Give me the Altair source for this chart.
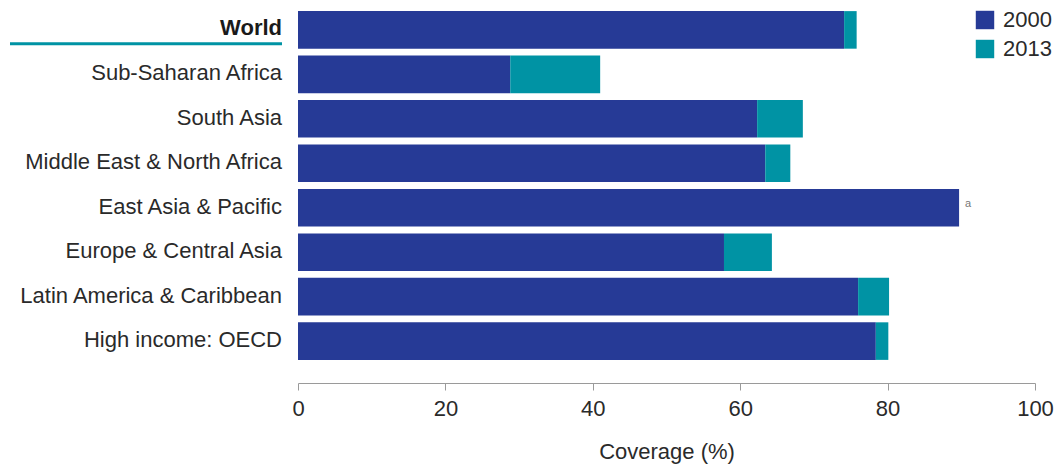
import altair as alt
import pandas as pd

regions = ["World", "Sub-Saharan Africa", "South Asia", "Middle East & North Africa",
           "East Asia & Pacific", "Europe & Central Asia", "Latin America & Caribbean",
           "High income: OECD"]
cov2000 = [74.1, 28.8, 62.3, 63.4, 89.7, 57.8, 76.0, 78.4]
cov2013 = [75.8, 41.0, 68.5, 66.8, 89.7, 64.3, 80.2, 80.1]
notes = ["", "", "", "", "a", "", "", ""]
years = ["2000", "2013"]
colors = ["#263a96", "#0093a4"]
ticks = [0, 20, 40, 60, 80, 100]

FONT = "Liberation Sans"
TXT = "#2a2a2a"
FS = 22

rows = []
for r, a, b in zip(regions, cov2000, cov2013):
    rows.append({"region": r, "year": "2000", "start": 0, "end": a})
    if b > a:
        rows.append({"region": r, "year": "2013", "start": a, "end": b})
seg = pd.DataFrame(rows)
info = pd.DataFrame({"region": regions, "total": cov2013, "note": notes})

yscale = alt.Scale(domain=regions, paddingInner=0.155, paddingOuter=0.07)
Y = alt.Y("region:N", sort=regions, scale=yscale, axis=None)

bars = alt.Chart(seg).mark_bar().encode(
    y=Y,
    x=alt.X("start:Q", scale=alt.Scale(domain=[0, 100], nice=False),
            axis=alt.Axis(values=ticks, title="Coverage (%)", grid=False,
                          domainColor="#9a9a9a", tickColor="#9a9a9a", tickSize=7,
                          labelFont=FONT, labelFontSize=FS, labelColor=TXT, labelPadding=8,
                          titleFont=FONT, titleFontSize=FS, titleColor=TXT,
                          titleFontWeight="normal", titlePadding=22, offset=20,
                          labelFlush=False)),
    x2="end:Q",
    color=alt.Color("year:N", scale=alt.Scale(domain=years, range=colors),
                    legend=alt.Legend(title=None, orient="none", legendX=676, legendY=1,
                                      symbolType="square", symbolSize=340,
                                      symbolStrokeWidth=0, labelFont=FONT,
                                      labelFontSize=FS, labelColor=TXT,
                                      labelOffset=7, rowPadding=7)),
)

labels_other = alt.Chart(info).transform_filter(alt.datum.region != "World").mark_text(
    align="right", baseline="middle", font=FONT, fontSize=FS, color=TXT, dy=-1
).encode(y=Y, x=alt.value(-16), text="region:N")

labels_world = alt.Chart(info).transform_filter(alt.datum.region == "World").mark_text(
    align="right", baseline="middle", font=FONT, fontSize=FS, fontWeight="bold",
    color="#1a1a1a", dy=-2
).encode(y=Y, x=alt.value(-16), text="region:N")

underline = alt.Chart(info).transform_filter(alt.datum.region == "World").mark_rule(
    color="#0093a4", strokeWidth=3
).encode(y=alt.Y("region:N", sort=regions, scale=yscale, axis=None, bandPosition=0.87),
         x=alt.value(-288), x2=alt.value(-16))

note = alt.Chart(info).transform_filter(alt.datum.note != "").mark_text(
    align="left", baseline="middle", font=FONT, fontSize=11, color="#777777", dx=6, dy=-4
).encode(y=Y, x=alt.X("total:Q"), text="note:N")

chart = alt.layer(bars, labels_other, labels_world, underline, note).properties(
    width=737, height=355,
    autosize=alt.AutoSizeParams(type="none"),
    padding={"left": 290, "top": 0, "right": 19, "bottom": 107},
).configure_view(stroke=None)

chart.save("out.html", embed_options={"renderer": "svg", "actions": False})
